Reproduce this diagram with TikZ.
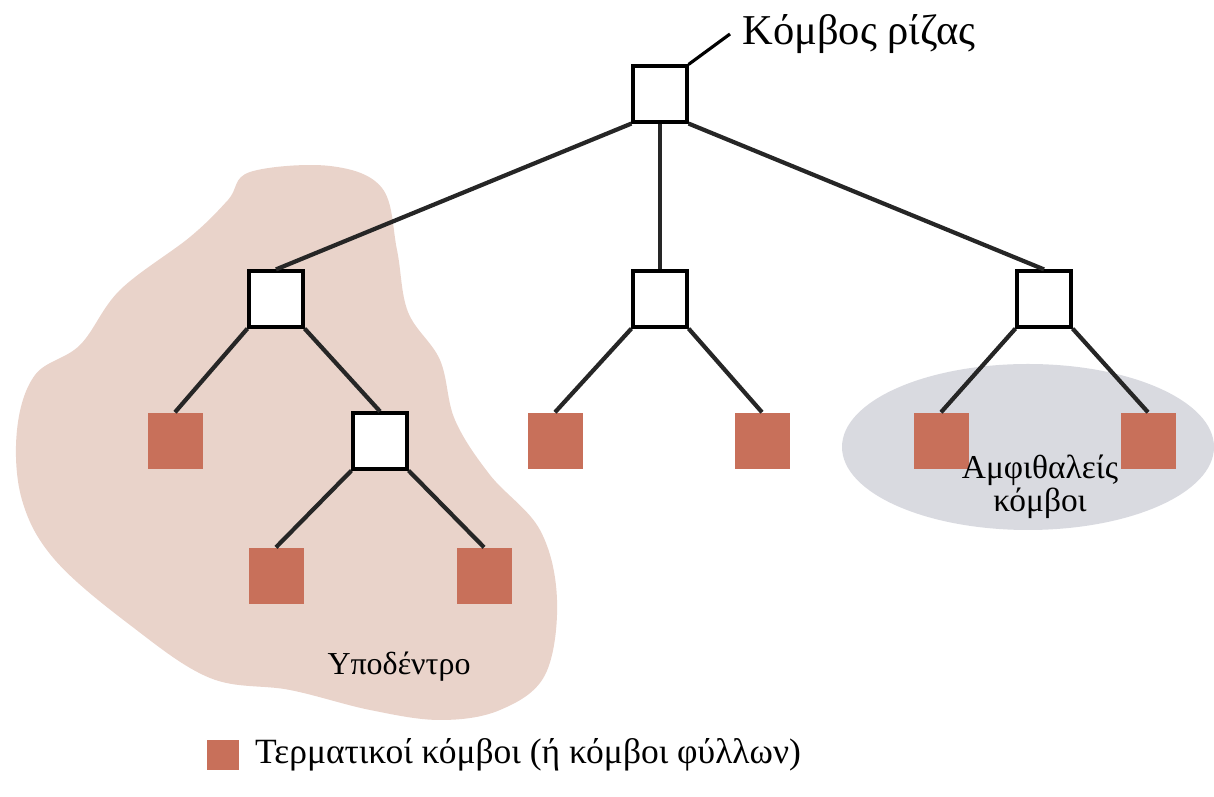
\documentclass[tikz,border=0pt]{standalone}
\usepackage{fontspec}
\setmainfont{Liberation Serif}
\usetikzlibrary{positioning}
\definecolor{leafred}{HTML}{C8705A}
\definecolor{subpink}{HTML}{E9D3CA}
\definecolor{sibgray}{HTML}{D9DAE0}

\begin{document}
\begin{tikzpicture}[x=0.1mm,y=-0.1mm,
  inner/.style={rectangle,draw=black,fill=white,line width=0.9pt,minimum width=5.4mm,minimum height=5.6mm,inner sep=0pt},
  leaf/.style={rectangle,fill=leafred,minimum width=5.5mm,minimum height=5.6mm,inner sep=0pt},
  edge/.style={line width=1.2pt,black!85},
  lbl/.style={font=\fontsize{9.5}{9.5}\selectfont}]
\useasboundingbox (0,0) rectangle (1214,797);
\fill[subpink] plot[smooth cycle,tension=0.6] coordinates {(250,172) (330,166) (382,188) (397,250) (408,312) (440,360) (455,420) (490,475) (540,530) (557,600) (545,675) (500,710) (440,720) (370,710) (290,690) (210,678) (130,625) (55,560) (22,500) (17,430) (35,375) (80,345) (120,290) (190,237) (228,200)};
\fill[sibgray] (1028,447) ellipse (186 and 83);
\path (660,94) node(r)[inner]{}
(276,299) node(a)[inner]{}
(660,299) node(b)[inner]{}
(1044,299) node(c)[inner]{}
(175,441) node(a1)[leaf]{}
(380,441) node(a2)[inner]{}
(555,441) node(b1)[leaf]{}
(762,441) node(b2)[leaf]{}
(941,441) node(c1)[leaf]{}
(1148,441) node(c2)[leaf]{}
(276,576) node(d1)[leaf]{}
(484,576) node(d2)[leaf]{};
\draw[edge](r.south west)--(a.north);
\draw[edge](r.south)--(b.north);
\draw[edge](r.south east)--(c.north);
\draw[edge](a.south west)--(a1.north);
\draw[edge](a.south east)--(a2.north);
\draw[edge](a2.south west)--(d1.north);
\draw[edge](a2.south east)--(d2.north);
\draw[edge](b.south west)--(b1.north);
\draw[edge](b.south east)--(b2.north);
\draw[edge](c.south west)--(c1.north);
\draw[edge](c.south east)--(c2.north);
% labels
\node(rl)[anchor=west,font=\fontsize{12.1}{14}\selectfont] at (730,34) {Κόμβος ρίζας};
\draw[line width=0.9pt](r.north east)--(rl.west);
\node(sl)[font=\fontsize{9.1}{9.1}\selectfont] at (399,667) {Υποδέντρο};
\node(cl)[lbl,align=center] at (1040,487) {Αμφιθαλείς\\κόμβοι};
\node(key)[leaf,minimum width=3.2mm,minimum height=3mm] at (223,755) {};
\node(keyl)[font=\fontsize{10.1}{11}\selectfont,right=0.3mm of key] {Τερματικοί κόμβοι (ή κόμβοι φύλλων)};
\end{tikzpicture}
\end{document}
